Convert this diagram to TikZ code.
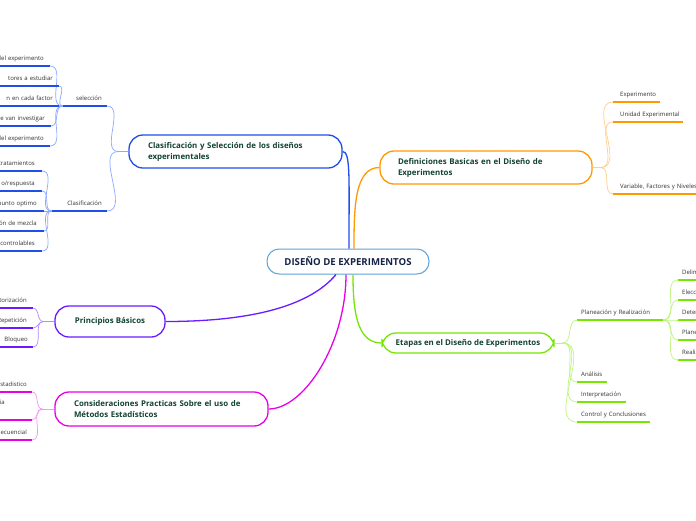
\documentclass[tikz,border=0pt]{standalone}
\usepackage{fontspec}
\setmainfont{Open Sans}
\usepackage{xcolor}
\usepackage{tikz}
\usetikzlibrary{calc}
\definecolor{bluebr}{RGB}{31,78,232}
\definecolor{bluelt}{RGB}{140,168,255}
\definecolor{orangebr}{RGB}{255,153,0}
\definecolor{orangelt}{RGB}{255,206,140}
\definecolor{greenbr}{RGB}{119,230,0}
\definecolor{greenlt}{RGB}{190,245,130}
\definecolor{purplebr}{RGB}{106,27,255}
\definecolor{purplelt}{RGB}{180,140,255}
\definecolor{magentabr}{RGB}{232,0,232}
\definecolor{magentalt}{RGB}{246,150,246}
\definecolor{rootline}{RGB}{91,163,217}
\definecolor{roottext}{RGB}{20,35,70}
\definecolor{boxtext}{RGB}{18,66,48}
\definecolor{leaftext}{RGB}{50,50,50}

\tikzset{
  rootbox/.style={draw=rootline, line width=1pt, rounded corners=12pt, fill=white, text=roottext,
    font=\fontsize{9.6}{11}\selectfont\bfseries, minimum width=162pt, minimum height=25pt, inner sep=0pt},
  topic/.style={line width=1.3pt, rounded corners=14pt, fill=white, text=boxtext,
    font=\fontsize{7.9}{11}\selectfont\bfseries, inner ysep=0pt},
  lleaf/.style={anchor=south east, align=right, text width=100pt, inner xsep=6pt, inner ysep=3.7pt,
    text height=4.5pt, text depth=1.3pt, text=leaftext, font=\fontsize{6}{7}\selectfont},
  rleaf/.style={anchor=south west, align=left, inner xsep=6pt, inner ysep=3.7pt,
    text height=4.5pt, text depth=1.3pt, text=leaftext, font=\fontsize{6}{7}\selectfont},
  uline/.style={line width=1.3pt},
  twig/.style={line width=0.7pt},
  limb/.style={line width=1.3pt},
}

\begin{document}
\begin{tikzpicture}[x=1pt, y=-1pt]
\path[use as bounding box, fill=white] (0,0) rectangle (696,520);
\clip (0,0) rectangle (696,520);

% boxes
\node[rootbox] (root) at (348,261.5) {DISEÑO DE EXPERIMENTOS};
\node[topic, draw=bluebr, minimum width=213pt, minimum height=33pt, text width=175pt, inner xsep=19pt, align=left]
  (cls) at (235.5,151.5) {Clasificación y Selección de los diseños\\experimentales};
\node[topic, draw=orangebr, minimum width=212pt, minimum height=33pt, text width=176pt, inner xsep=18pt, align=left]
  (def) at (486,167.5) {Definiciones Basicas en el Diseño de\\Experimentos};
\node[topic, draw=greenbr, minimum width=172pt, minimum height=20pt, inner xsep=0pt]
  (eta) at (468,343) {Etapas en el Diseño de Experimentos};
\node[topic, draw=purplebr, minimum width=110pt, minimum height=31pt, inner xsep=0pt]
  (pb) at (110,321.5) {Principios Básicos};
\node[topic, draw=magentabr, minimum width=213pt, minimum height=34pt, text width=175pt, inner xsep=19pt, align=left]
  (cp) at (161.5,409) {Consideraciones Practicas Sobre el uso de\\Métodos Estadísticos};

% main branches
\draw[limb, bluebr] ($(root.north)+(1,0)$) .. controls +(0,-70) and +(8,0) .. (cls.east);
\draw[limb, orangebr] ($(root.north)+(6,0)$) .. controls +(0,-40) and +(-25,0) .. (def.west);
\draw[limb, greenbr] ($(root.south)+(5,0)$) .. controls +(0,35) and +(-25,0) .. (eta.west);
\draw[limb, magentabr] ($(root.south)+(-2,0)$) .. controls +(0,70) and +(35,0) .. (cp.east);
\draw[limb, purplebr] ($(root.south)+(-12,0)$) .. controls +(-25,30) and +(90,0) .. (pb.east);

% seleccion / clasificacion
\node[lleaf, text width=34pt, inner xsep=5pt] (sel) at (107,106) {selección};
\node[lleaf, text width=45pt, inner xsep=5pt] (cla) at (107,211) {Clasificación};
\coordinate (clsj) at ($(cls.west)+(-10,0)$);
\draw[uline, bluebr] (sel.south west) -- (sel.south east);
\draw[uline, bluebr] (cla.south west) -- (cla.south east);
\draw[twig, bluelt] (sel.south east) to[out=0,in=180] (clsj) -- (cls.west);
\draw[twig, bluelt] (cla.south east) to[out=0,in=180] (clsj);

\node[lleaf] (s1) at (50,66) {del experimento};
\node[lleaf] (s2) at (59,86) {tores a estudiar};
\node[lleaf] (s3) at (59,106) {n en cada factor};
\node[lleaf] (s4) at (51,126) {e van investigar};
\node[lleaf] (s5) at (50,146) {del experimento};
\foreach \n in {s1,s2,s3,s4,s5}{
  \draw[uline, bluebr] (\n.south west) -- (\n.south east);
  \draw[twig, bluelt] (\n.south east) to[out=0,in=180] (sel.south west);
}

\node[lleaf, inner xsep=7pt] (c1) at (42,171) {tratamientos};
\node[lleaf, inner xsep=7pt] (c2) at (42,191) {o/respuesta};
\node[lleaf, inner xsep=7pt] (c3) at (44,211) {punto optimo};
\node[lleaf, inner xsep=7pt] (c4) at (44,231) {ón de mezcla};
\node[lleaf, inner xsep=7pt] (c5) at (42,251) {controlables};
\foreach \n in {c1,c2,c3,c4,c5}{
  \draw[uline, bluebr] (\n.south west) -- (\n.south east);
  \draw[twig, bluelt] (\n.south east) to[out=0,in=180] (cla.south west);
}

% definiciones
\coordinate (defj) at ($(def.east)+(8,0)$);
\draw[twig, orangelt] (def.east) -- (defj);
\node[rleaf, inner xsep=7pt, text width=33pt] (d1) at (613,102) {Experimento};
\node[rleaf, inner xsep=7pt, text width=56pt] (d2) at (613,122) {\mbox{Unidad Experimental}};
\node[rleaf, inner xsep=7pt, text width=90pt] (d3) at (613,194) {Variable, Factores y Niveles};
\foreach \n in {d1,d2,d3}{
  \draw[uline, orangebr] (\n.south west) -- (\n.south east);
  \draw[twig, orangelt] (defj) to[out=0,in=180] (\n.south west);
}

% etapas
\coordinate (etaj) at ($(eta.east)+(8,0)$);
\draw[twig, greenlt] (eta.east) -- (etaj);
\node[rleaf, inner xsep=4pt, text width=78pt] (e1) at (577,320) {Planeación y Realización};
\node[rleaf, inner xsep=4pt, text width=22pt] (e2) at (577,382) {Análisis};
\node[rleaf, inner xsep=4pt, text width=41pt] (e3) at (577,402) {Interpretación};
\node[rleaf, inner xsep=4pt, text width=65pt] (e4) at (577,422) {Control y Conclusiones};
\foreach \n in {e1,e2,e3,e4}{
  \draw[uline, greenbr] (\n.south west) -- (\n.south east);
  \draw[twig, greenlt] (etaj) to[out=0,in=180] (\n.south west);
}
\node[rleaf, inner xsep=4pt, text width=40pt] (p1) at (678,280) {Delim};
\node[rleaf, inner xsep=4pt, text width=40pt] (p2) at (678,300) {Elecci};
\node[rleaf, inner xsep=4pt, text width=40pt] (p3) at (678,320) {Deter};
\node[rleaf, inner xsep=4pt, text width=40pt] (p4) at (678,340) {Plane};
\node[rleaf, inner xsep=4pt, text width=40pt] (p5) at (678,360) {Realiz};
\foreach \n in {p1,p2,p3,p4,p5}{
  \draw[uline, greenbr] (\n.south west) -- (\n.south east);
  \draw[twig, greenlt] (e1.south east) to[out=0,in=180] (\n.south west);
}

% principios
\coordinate (pbj) at ($(pb.west)+(-11,0)$);
\draw[twig, purplelt] (pbj) -- (pb.west);
\node[lleaf] (b1) at (33,308) {torización};
\node[lleaf] (b2) at (33,328) {Repetición};
\node[lleaf, inner xsep=5pt] (b3) at (33,347) {Bloqueo};
\foreach \n in {b1,b2,b3}{
  \draw[uline, purplebr] (\n.south west) -- (\n.south east);
  \draw[twig, purplelt] (\n.south east) to[out=0,in=180] (pbj);
}

% consideraciones
\coordinate (cpj) at ($(cp.west)+(-12,0)$);
\draw[twig, magentalt] (cpj) -- (cp.west);
\node[lleaf, inner xsep=5pt] (m1) at (32,392) {stadistico};
\node[lleaf, inner xsep=27pt, text depth=11.3pt] (m2) at (32,420) {ia};
\node[lleaf, inner xsep=5pt] (m3) at (32,440) {ecuencial};
\foreach \n in {m1,m2,m3}{
  \draw[uline, magentabr] (\n.south west) -- (\n.south east);
  \draw[twig, magentalt] (\n.south east) to[out=0,in=180] (cpj);
}
\end{tikzpicture}
\end{document}
